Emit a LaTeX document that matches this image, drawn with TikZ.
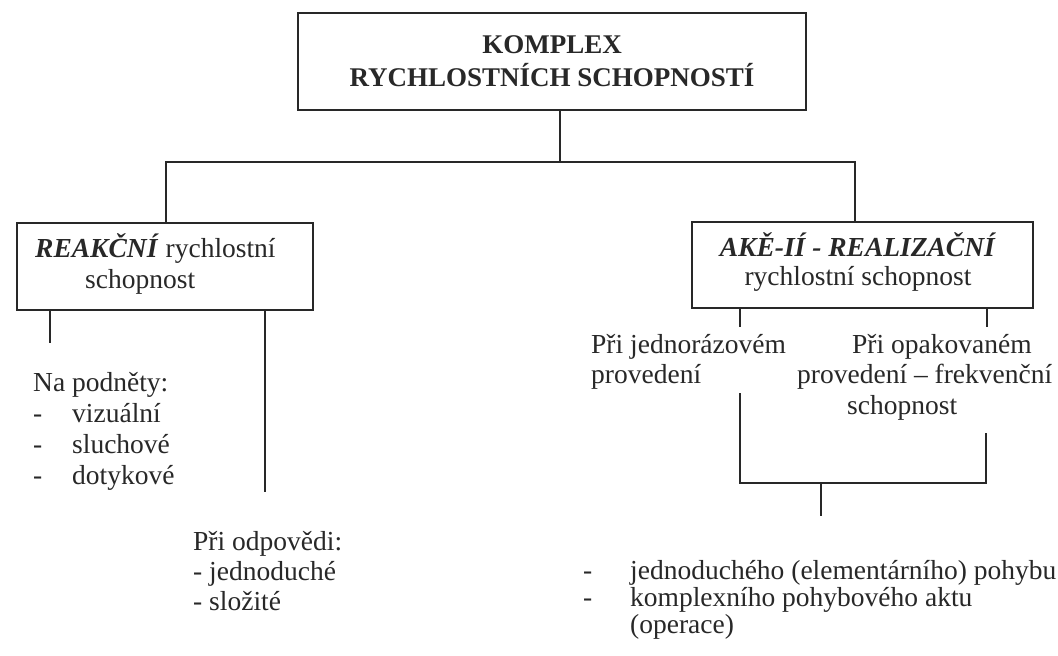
\documentclass[tikz,border=0pt]{standalone}
\usepackage{fontspec}
\setmainfont{Liberation Serif}
\definecolor{ink}{RGB}{40,40,40}
\newcommand\fsz{\fontsize{27.5}{30}\selectfont}
\begin{document}
\begin{tikzpicture}[x=1pt,y=-1pt,
  conn/.style={draw=ink, line width=1.5pt},
  box/.style={draw=ink, line width=1.5pt, rectangle, inner sep=0pt},
  txt/.style={anchor=base west, inner sep=0pt, text=ink, font=\fsz},
  txtc/.style={anchor=base, inner sep=0pt, text=ink, font=\fsz}]
\useasboundingbox (0,0) rectangle (1058,656);
\fill[white] (0,0) rectangle (1058,656);

% boxes
\node[box, minimum width=508pt, minimum height=97pt, align=center, text=ink,
      font=\bfseries\fontsize{27}{33}\selectfont] (top) at (552,61.5)
      {KOMPLEX\\RYCHLOSTNÍCH SCHOPNOSTÍ};
\node[box, minimum width=296pt, minimum height=87pt] (reak) at (165,266.5) {};
\node[txt] (reak1) at (35,257) {\textbf{\textit{REAKČNÍ}} rychlostní};
\node[txt] (reak2) at (85,288) {schopnost};
\node[box, minimum width=341pt, minimum height=86pt] (akc) at (862.5,265) {};
\node[txtc] (akc1) at (858,256) {\textbf{\textit{AKĚ-IÍ - REALIZAČNÍ}}};
\node[txtc] (akc2) at (858,285) {rychlostní schopnost};

% top connectors
\coordinate (hL) at (166,162);
\coordinate (hM) at (560,162);
\coordinate (hR) at (855,162);
\draw[conn] (hM |- top.south) -- (hM);
\draw[conn] (reak.north -| hL) -- (hL) -- (hR) -- (akc.north -| hR);

% left branch
\coordinate (l1) at (50,343);
\coordinate (l2) at (265,492);
\draw[conn] (reak.south -| l1) -- (l1);
\draw[conn] (reak.south -| l2) -- (l2);

\node[txt] (np0) at (33,391) {Na podněty:};
\node[txt] (np1) at (33,422) {\makebox[39pt][l]{-}vizuální};
\node[txt] (np2) at (33,453) {\makebox[39pt][l]{-}sluchové};
\node[txt] (np3) at (33,484) {\makebox[39pt][l]{-}dotykové};

\node[txt] (od0) at (193,550) {Při odpovědi:};
\node[txt] (od1) at (193,580) {- jednoduché};
\node[txt] (od2) at (193,610) {- složité};

% right branch
\coordinate (r1) at (740,327);
\coordinate (r2) at (987,327);
\draw[conn] (akc.south -| r1) -- (r1);
\draw[conn] (akc.south -| r2) -- (r2);

\node[txt] (jd0) at (591,353) {Při jednorázovém};
\node[txt] (jd1) at (591,383) {provedení};
\node[txt] (op0) at (852,353) {Při opakovaném};
\node[txt] (op1) at (797,383) {provedení – frekvenční};
\node[txt] (op2) at (847,414) {schopnost};

\coordinate (b1) at (740,393);
\coordinate (b2) at (986,433);
\coordinate (bL) at (740,483);
\coordinate (bR) at (986,483);
\coordinate (bM) at (821,483);
\coordinate (bE) at (821,516);
\draw[conn] (b1) -- (bL) -- (bR) -- (b2);
\draw[conn] (bM) -- (bE);

\node[txt] (pb1) at (583,579) {\makebox[47pt][l]{-}jednoduchého (elementárního) pohybu};
\node[txt] (pb2) at (583,606) {\makebox[47pt][l]{-}komplexního pohybového aktu};
\node[txt] (pb3) at (630,633) {(operace)};
\end{tikzpicture}
\end{document}
